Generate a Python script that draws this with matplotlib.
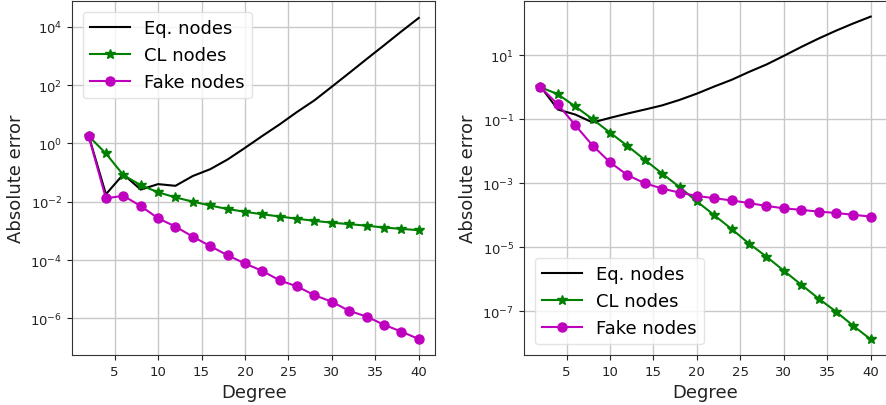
import matplotlib
matplotlib.use("Agg")
import matplotlib.pyplot as plt

# degrees (same for both panels)
degree = [2, 4, 6, 8, 10, 12, 14, 16, 18, 20, 22, 24, 26, 28, 30, 32, 34, 36, 38, 40]

# left panel
eq_left = [1.9, 0.018, 0.087, 0.026, 0.04, 0.035, 0.076, 0.13, 0.28, 0.7,
           1.8, 4.5, 12.0, 30.0, 88.0, 260.0, 780.0, 2300.0, 6900.0, 2.0e4]
cl_left = [1.8, 0.45, 0.082, 0.037, 0.021, 0.014, 0.01, 0.0074, 0.0056, 0.0045,
           0.0037, 0.0031, 0.0026, 0.0022, 0.0019, 0.0017, 0.0015, 0.0013, 0.00117, 0.00105]
fake_left = [1.8, 0.013, 0.016, 0.0071, 0.0027, 0.0014, 6.3e-4, 3.0e-4, 1.45e-4, 7.6e-5,
             4.2e-5, 2.0e-5, 1.24e-5, 6.2e-6, 3.7e-6, 1.8e-6, 1.15e-6, 6.0e-7, 3.5e-7, 1.95e-7]

# right panel
eq_right = [1.05, 0.2, 0.14, 0.079, 0.11, 0.15, 0.2, 0.27, 0.4, 0.63,
            1.05, 1.7, 3.0, 5.1, 9.5, 18.0, 33.0, 58.0, 98.0, 160.0]
cl_right = [1.0, 0.6, 0.25, 0.1, 0.038, 0.0147, 0.0054, 0.002, 7.6e-4, 2.7e-4,
            1.0e-4, 3.7e-5, 1.3e-5, 5.1e-6, 1.85e-6, 6.8e-7, 2.5e-7, 9.8e-8, 3.5e-8, 1.33e-8]
fake_right = [1.0, 0.29, 0.065, 0.015, 0.0045, 0.0018, 1.0e-3, 6.8e-4, 5.1e-4, 4.0e-4,
              3.4e-4, 2.9e-4, 2.4e-4, 1.95e-4, 1.65e-4, 1.47e-4, 1.3e-4, 1.18e-4, 1.03e-4, 9.1e-5]

left_yticks = [1e4, 1e2, 1e0, 1e-2, 1e-4, 1e-6]
right_yticks = [1e1, 1e-1, 1e-3, 1e-5, 1e-7]
xticks = [5, 10, 15, 20, 25, 30, 35, 40]

fig = plt.figure(figsize=(8.86, 4.06), dpi=100)
ax1 = fig.add_axes([0.0813, 0.123, 0.41, 0.872])
ax2 = fig.add_axes([0.5914, 0.123, 0.41, 0.872])


def draw(ax, eq, cl, fake, yticks, ylim, legend_loc):
    ax.plot(degree, eq, color="k", lw=1.5, label="Eq. nodes")
    ax.plot(degree, cl, color="g", lw=1.5, marker="*", ms=7.5, label="CL nodes")
    ax.plot(degree, fake, color="m", lw=1.5, marker="o", ms=6.5, label="Fake nodes")
    ax.set_yscale("log")
    ax.set_xlim(0.1, 41.9)
    ax.set_ylim(*ylim)
    ax.set_yticks(yticks)
    ax.minorticks_off()
    ax.set_xticks(xticks)
    ax.grid(True, color="#c8c8c8", lw=1)
    ax.set_axisbelow(True)
    ax.tick_params(labelsize=9.5, colors="#222222")
    ax.set_xlabel("Degree", fontsize=13, color="#222222")
    ax.set_ylabel("Absolute error", fontsize=13, color="#222222")
    for s in ax.spines.values():
        s.set_color("#333333")
    leg = ax.legend(loc=legend_loc, fontsize=13, handlelength=2.2, framealpha=0.8,
                    borderaxespad=0.6)
    leg.get_frame().set_edgecolor("#dddddd")


draw(ax1, eq_left, cl_left, fake_left, left_yticks, (5.5e-8, 7.6e4), "upper left")
draw(ax2, eq_right, cl_right, fake_right, right_yticks, (4.3e-9, 490), "lower left")

fig.savefig("out.png", dpi=100)
